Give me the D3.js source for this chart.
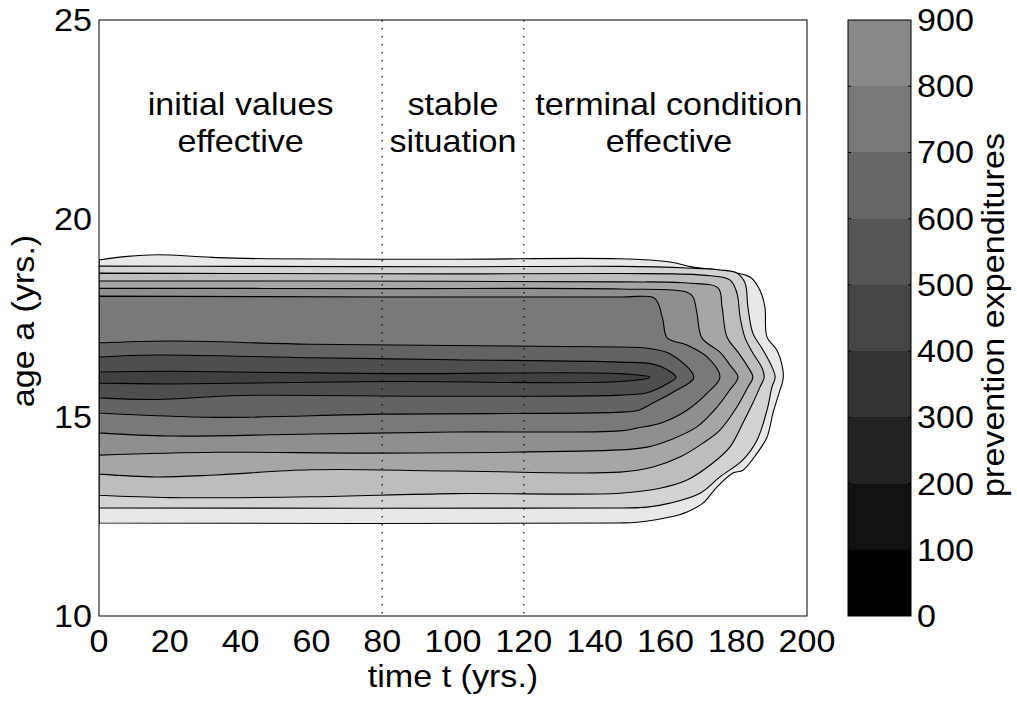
<!DOCTYPE html>
<html>
<head>
    <title>Prevention expenditures contour</title>
    <script src="https://d3js.org/d3.v7.min.js"></script>
    <style>
        body { margin: 0; background: #fff; }
        svg text { font-family: "Liberation Sans", Arial, sans-serif; font-size: 31px; fill: #000; }
    </style>
</head>
<body>
<div class="chart"></div>

<script>
    // contour levels, outermost first. each one: upper edge (left -> tip) and lower edge (left -> near tip)
    const upperEdges = [
        [[0,18.96],[8,19.05],[16.4,19.09],[33.3,19.02],[48,18.99],[100,18.98],[147,18.99],[161.3,18.91],[167.8,18.78],[178.2,18.66],[183.9,18.53],[186.7,18.20],[188.1,17.78],[188.7,17.02],[191.5,16.69],[193.2,16.19],[193.2,15.94]],
        [[0,18.81],[40,18.80],[100,18.79],[147.2,18.80],[166.1,18.76],[175.4,18.71],[180.2,18.63],[182.5,18.38],[183.3,17.78],[184.7,17.12],[187.6,16.69],[190.1,16.27],[191,16.01]],
        [[0,18.63],[40,18.62],[100,18.61],[147.2,18.62],[170.6,18.58],[178.2,18.46],[180.2,18.13],[181.1,17.52],[182.5,17.0],[184.7,16.62],[187.3,16.24],[187.9,16.01]],
        [[0,18.43],[60,18.43],[147.2,18.41],[166.1,18.38],[174.9,18.25],[176,17.78],[177.4,17.02],[180.5,16.64],[183.3,16.27],[184.7,16.01]],
        [[0,18.25],[80,18.24],[147.2,18.23],[166.1,18.15],[167.8,18.03],[168.9,17.63],[170.3,17.0],[175.4,16.64],[178.2,16.32],[180.5,16.01]],
        [[0,18.05],[80,18.03],[147.2,18.03],[156.5,18.02],[157.9,17.88],[159.3,17.45],[160.5,17.0],[166.1,16.82],[171.8,16.52],[175.4,16.01]],
        [[0,16.87],[20,16.92],[60,16.84],[147.2,16.77],[154.8,16.74],[161.3,16.60],[168,16.01]],
        [[0,16.52],[16,16.57],[60,16.50],[100,16.45],[147.2,16.39],[156.5,16.34],[160.5,16.20],[163,16.01]],
        [[0,16.14],[20,16.16],[82,16.10],[147.2,16.10],[155.6,16.01]]
    ];
    const lowerEdges = [
        [[0,12.34],[147,12.34],[152,12.36],[161.3,12.49],[166.1,12.62],[170.6,12.84],[174.6,13.25],[179.1,13.60],[181.9,13.67],[185.9,14.10],[188.7,14.50],[190.4,15.11],[192.1,15.61]],
        [[0,12.72],[147.2,12.72],[154.8,12.74],[161.3,12.84],[169.8,13.09],[175.4,13.50],[181.9,13.93],[185.9,14.43],[188.7,15.18],[190.1,15.76]],
        [[0,13.04],[20,12.98],[60,13.0],[100,13.08],[147.2,13.09],[158.8,13.22],[166.1,13.42],[173.4,13.85],[178.2,14.25],[181.9,14.86],[184.7,15.36],[186.7,15.76]],
        [[0,13.57],[16,13.50],[33,13.55],[60,13.68],[100,13.65],[147.2,13.62],[156.5,13.75],[164.1,14.0],[170.6,14.35],[175.4,14.68],[180.2,15.26],[183.3,15.76]],
        [[0,14.05],[33,14.12],[80,14.10],[147.2,14.18],[154.8,14.25],[161.3,14.43],[168.9,14.76],[174.6,15.26],[178.2,15.69]],
        [[0,14.61],[20,14.53],[60,14.58],[100,14.63],[147.2,14.66],[152,14.73],[158.8,14.86],[166.1,15.18],[171.8,15.61]],
        [[0,15.11],[33,15.0],[80,15.08],[147.2,15.13],[152.5,15.18],[156.5,15.36],[162.5,15.65]],
        [[0,15.49],[16,15.45],[40,15.55],[100,15.53],[147.2,15.56],[154.8,15.62],[160,15.82]],
        [[0,15.86],[20,15.84],[82,15.90],[147.2,15.90]]
    ];
    const bandShades = ["#e8e8e8", "#d3d3d3", "#bdbdbd", "#a6a6a6", "#8f8f8f", "#797979", "#636363", "#4e4e4e", "#404040"];

    const colorbarLevels = [0, 100, 200, 300, 400, 500, 600, 700, 800, 900];
    const colorbarShades = ["#000000", "#111111", "#222222", "#333333", "#444444", "#555555", "#666666", "#777777", "#888888"];

    const xTicks = [0, 20, 40, 60, 80, 100, 120, 140, 160, 180, 200];
    const yTicks = [10, 15, 20, 25];
    const phaseBorders = [80, 120];
    const phaseLabels = [
        {t: 40, lines: ["initial values", "effective"]},
        {t: 100, lines: ["stable", "situation"]},
        {t: 161, lines: ["terminal condition", "effective"]}
    ];

    const svg = d3.select(".chart").append("svg").attr("width", 1017).attr("height", 701);
    const plot = {left: 99, right: 807, top: 20, bottom: 616};
    const bar = {left: 848, right: 911};
    const stretch = 1.1; // the text in the original is a bit wide

    const x = d3.scaleLinear().domain([0, 200]).range([plot.left, plot.right]);
    const y = d3.scaleLinear().domain([10, 25]).range([plot.bottom, plot.top]);
    const c = d3.scaleLinear().domain([0, 900]).range([plot.bottom, plot.top]);

    function label(px, py, str, anchor, rot) {
        svg.append("text")
            .attr("transform", "translate(" + px + "," + py + ")" + (rot ? " rotate(" + rot + ")" : "") + " scale(" + stretch + ",1)")
            .attr("text-anchor", anchor)
            .text(str);
    }

    const line = d3.line()
        .x(d => x(d[0]))
        .y(d => y(d[1]))
        .curve(d3.curveCatmullRom.alpha(0.5));

    svg.append("defs").append("clipPath").attr("id", "clip")
        .append("rect").attr("x", plot.left).attr("y", plot.top)
        .attr("width", plot.right - plot.left).attr("height", plot.bottom - plot.top);

    const g = svg.append("g").attr("clip-path", "url(#clip)");
    upperEdges.forEach(function(upper, i) {
        const outline = lowerEdges[i].concat(upper.slice().reverse());
        g.append("path")
            .attr("d", line(outline) + "Z")
            .attr("fill", bandShades[i])
            .attr("stroke", "#000")
            .attr("stroke-width", 1.1)
            .attr("stroke-linejoin", "round");
    });

    phaseBorders.forEach(function(t) {
        svg.append("line")
            .attr("x1", x(t)).attr("x2", x(t))
            .attr("y1", plot.top).attr("y2", plot.bottom)
            .attr("stroke", "#111")
            .attr("stroke-width", 1.3)
            .attr("stroke-dasharray", "1.5,6.5");
    });

    svg.append("rect")
        .attr("x", plot.left).attr("y", plot.top)
        .attr("width", plot.right - plot.left).attr("height", plot.bottom - plot.top)
        .attr("fill", "none").attr("stroke", "#000").attr("stroke-width", 1);

    xTicks.forEach(t => label(x(t), plot.bottom + 36, t, "middle"));
    yTicks.forEach(a => label(plot.left - 7, y(a) + 11, a, "end"));

    phaseLabels.forEach(function(p) {
        label(x(p.t), y(22.61), p.lines[0], "middle");
        label(x(p.t), y(21.68), p.lines[1], "middle");
    });

    label((plot.left + plot.right) / 2, 687, "time t (yrs.)", "middle");
    label(34, (plot.top + plot.bottom) / 2 + 3, "age a (yrs.)", "middle", -90);

    // colorbar
    colorbarShades.forEach(function(col, i) {
        svg.append("rect")
            .attr("x", bar.left)
            .attr("y", Math.round(c(colorbarLevels[i + 1])))
            .attr("width", bar.right - bar.left)
            .attr("height", Math.round(c(colorbarLevels[i])) - Math.round(c(colorbarLevels[i + 1])))
            .attr("fill", col)
            .attr("shape-rendering", "crispEdges");
    });
    colorbarLevels.slice(1, -1).forEach(function(v) {
        svg.append("line").attr("x1", bar.left).attr("x2", bar.left + 3)
            .attr("y1", c(v)).attr("y2", c(v)).attr("stroke", "#000");
        svg.append("line").attr("x1", bar.right - 3).attr("x2", bar.right)
            .attr("y1", c(v)).attr("y2", c(v)).attr("stroke", "#000");
    });
    svg.append("rect")
        .attr("x", bar.left).attr("y", plot.top)
        .attr("width", bar.right - bar.left).attr("height", plot.bottom - plot.top)
        .attr("fill", "none").attr("stroke", "#000").attr("stroke-width", 1);
    colorbarLevels.forEach(v => label(bar.right + 6, c(v) + 11, v, "start"));
    label(1004, 315, "prevention expenditures", "middle", -90);
</script>
</body>
</html>
